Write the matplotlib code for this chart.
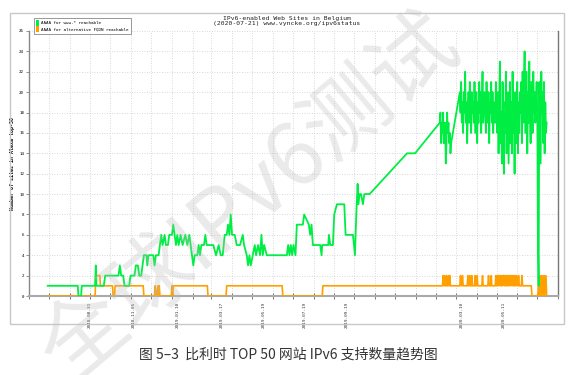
import matplotlib
matplotlib.use('Agg')
import matplotlib.pyplot as plt
import matplotlib.dates as mdates
from matplotlib.patches import Patch, Rectangle
import pandas as pd

# Data (days counted from START)
START = pd.Timestamp('2018-06-01')
END = pd.Timestamp('2020-08-01')

green_day = [28, 73, 74, 78, 79, 99, 100, 101, 112, 114, 134, 136, 138, 141, 143, 150, 152,
             158, 160, 163, 165, 168, 170, 172, 176, 177, 179, 186, 188, 190, 194, 196, 198,
             200, 203, 205, 208, 210, 214, 216, 218, 220, 222, 224, 227, 230, 234, 237, 240,
             244, 246, 248, 252, 254, 256, 258, 262, 264, 266, 272, 276, 280, 284, 287, 290,
             293, 296, 298, 300, 302, 304, 308, 311, 316, 320, 322, 326, 328, 330, 332, 335,
             338, 340, 343, 346, 348, 350, 352, 356, 361, 386, 388, 390, 392, 394, 396, 399,
             401, 410, 412, 419, 421, 423, 425, 436, 438, 439, 441, 448, 449, 451, 455, 457,
             461, 472, 474, 476, 485, 488, 490, 492, 493, 495, 497, 500, 502, 510,
             566, 578]
green_val = [1, 1, 0, 0, 1, 1, 3, 1, 1, 2, 2, 3, 2, 2, 1, 1, 2,
             2, 3, 3, 2, 2, 3, 4, 4, 3, 4, 4, 3, 4, 4, 5, 6,
             5, 6, 5, 5, 6, 6, 7, 6, 5, 6, 5, 6, 5, 6, 5, 6,
             4, 3, 4, 4, 5, 4, 5, 5, 6, 5, 5, 5, 4, 5, 4, 4,
             6, 6, 7, 6, 8, 6, 6, 5, 5, 6, 5, 4, 3, 4, 3, 4,
             5, 4, 5, 4, 6, 4, 5, 4, 4, 4, 5, 4, 5, 4, 5, 4,
             7, 7, 8, 7, 6, 7, 5, 5, 4, 5, 5, 5, 6, 5, 5, 8,
             9, 9, 6, 6, 6, 4, 8, 11, 9, 10, 10, 9, 10, 10,
             14, 14]

# daily readings after the data gap
green_noisy_a = [17, 18, 15, 17, 16, 18, 15, 16, 17, 13, 15, 18, 16, 17, 15, 16, 14, 15]  # day 615..
green_noisy_b = [20, 18, 21, 17, 19, 16, 20, 18, 22, 17, 19, 15, 18, 20, 17, 21, 19, 16, 20, 18,
                 19, 17, 21, 16, 18, 20, 15, 19, 17, 21, 18, 20, 16, 19, 22, 17, 18, 20, 19, 16,
                 21, 18, 17, 20, 15, 19, 18, 21, 17, 20, 16, 18, 19, 17, 21, 18,
                 16, 20, 14, 19, 23, 15, 18, 13, 21, 17, 12, 19, 16, 22, 14, 18, 20, 13, 17, 21,
                 15, 19, 14, 22, 16, 18, 12, 20, 17, 15, 21, 14, 19, 16, 20,
                 18, 21, 15, 22, 17, 20, 24, 16, 19, 22, 14, 20, 17, 23, 18, 15, 21, 19, 16, 22,
                 18, 20, 17, 19, 21, 18,
                 5, 1,
                 21, 17, 13, 22, 18, 20, 15, 21, 14, 19, 16, 17]  # day 645..

orange_day = [28, 99, 100, 106, 107, 125, 126, 128, 129, 171, 172, 188, 189, 190, 191, 193,
              194, 195, 196, 213, 214, 215, 216, 217, 267, 268, 295, 296, 379, 380, 439, 440,
              619, 620, 621, 622, 623, 624, 625, 626, 627, 628, 629, 630, 631,
              645, 646, 647, 648, 649, 650, 656, 657, 658, 659, 660, 661, 662, 663, 664,
              667, 668, 669, 670, 671, 672, 678, 679, 680, 687, 688, 689, 691, 692, 693,
              698, 699, 700, 701, 702, 703, 704, 705, 706, 707, 708, 709, 710, 711, 712,
              713, 714, 715, 716, 717, 718, 719, 720, 721, 722, 723, 724, 725, 726, 727,
              728, 729, 730, 732, 733, 734, 737, 738, 739, 752, 753, 761,
              762, 763, 764, 765, 766, 767, 768, 769, 770, 771, 772, 773, 774, 775]
orange_val = [0, 0, 2, 2, 1, 1, 0, 0, 1, 1, 0, 0, 1, 0, 0, 1,
              0, 1, 0, 0, 1, 0, 1, 1, 1, 0, 0, 1, 1, 0, 0, 1,
              1, 2, 1, 2, 1, 1, 2, 1, 1, 2, 1, 2, 1,
              1, 2, 1, 1, 2, 1, 1, 2, 1, 1, 2, 1, 1, 2, 1,
              1, 2, 1, 1, 2, 1, 1, 2, 1, 1, 2, 1, 1, 2, 1,
              1, 2, 1, 2, 1, 2, 2, 1, 2, 1, 2, 1, 2, 2, 1,
              2, 1, 2, 1, 2, 1, 2, 1, 2, 2, 1, 2, 1, 2, 1,
              2, 1, 2, 1, 2, 1, 1, 2, 1, 1, 0, 0,
              0, 2, 0, 1, 2, 0, 2, 1, 0, 2, 0, 1, 2, 0]

tick_label_days = [91, 157, 223, 289, 352, 413, 475, 648, 710]

title = 'IPv6-enabled Web Sites in Belgium\n(2020-07-21) www.vyncke.org/ipv6status'
ylabel = 'Number of sites in Alexa top-50'
legend_labels = ['AAAA for www.* reachable', 'AAAA for alternative FQDN reachable']
caption = '图 5–3  比利时 TOP 50 网站 IPv6 支持数量趋势图'
watermark = '全球IPv6测试'

GREEN = '#00ee44'
ORANGE = '#ffa000'
MONO = 'DejaVu Sans Mono'


def to_dates(days):
    return [START + pd.Timedelta(days=d) for d in days]


g_days = green_day + list(range(615, 615 + len(green_noisy_a))) + list(range(645, 645 + len(green_noisy_b)))
g_vals = green_val + green_noisy_a + green_noisy_b

fig = plt.figure(figsize=(5.84, 3.75), dpi=100)
fig.patches.append(Rectangle((10 / 584, 1 - 324 / 375), 554 / 584, 311 / 375,
                             transform=fig.transFigure, fill=False,
                             edgecolor='#c8c8c8', lw=1.0))

ax = fig.add_axes([29 / 584, 1 - 296 / 375, 529 / 584, 265 / 375])
ax.plot(to_dates(orange_day), orange_val, color=ORANGE, lw=1.2, zorder=3)
ax.plot(to_dates(g_days), g_vals, color=GREEN, lw=1.3, zorder=4)

ax.set_xlim(START, END)
ax.set_ylim(0, 26)
ax.set_yticks(range(0, 27, 2))
ax.tick_params(axis='y', labelsize=3, length=2.5, color='#666', width=0.5, pad=1.0)
for lab in ax.get_yticklabels():
    lab.set_fontfamily(MONO)

# monthly ticks with grid, labels at selected dates
ax.xaxis.set_minor_locator(mdates.MonthLocator())
ax.set_xticks(to_dates(tick_label_days))
ax.set_xticklabels([d.strftime('%Y-%m-%d') for d in to_dates(tick_label_days)],
                   rotation=90, fontsize=3.2, family=MONO, color='#333')
ax.tick_params(axis='x', which='major', length=0, pad=4)
ax.tick_params(axis='x', which='minor', length=4, direction='inout', color='#666', width=0.6)
ax.grid(True, which='minor', axis='x', color='#cccccc', ls=(0, (1, 2)), lw=0.6)
ax.grid(True, which='major', axis='y', color='#cccccc', ls=(0, (1, 2)), lw=0.6)
ax.grid(False, which='major', axis='x')

ax.spines['top'].set_visible(False)
ax.spines['left'].set_color('#888')
ax.spines['left'].set_linewidth(1.0)
ax.spines['bottom'].set_color('#aaa')
ax.spines['bottom'].set_linewidth(1.5)
ax.spines['right'].set_color('#777')
ax.spines['right'].set_linewidth(1.0)

ax.set_ylabel(ylabel, fontsize=3.6, family=MONO, fontweight='bold')
ax.yaxis.set_label_coords(-14 / 529, 0.5)

fig.text(287 / 584, 1 - 21 / 375, title, ha='center', va='center', fontsize=4.6,
         family=MONO, linespacing=1.2, color='#222')

handles = [Patch(facecolor=GREEN, edgecolor='none'), Patch(facecolor=ORANGE, edgecolor='none')]
leg = ax.legend(handles, legend_labels, loc='upper left',
                bbox_to_anchor=(32 / 584, 1 - 16 / 375), bbox_transform=fig.transFigure,
                prop={'family': MONO, 'size': 3.1}, handlelength=0.6, handleheight=1.6,
                handletextpad=0.6, borderpad=0.45, labelspacing=0.15, frameon=True,
                fancybox=False, edgecolor='#888', framealpha=1)
leg.get_frame().set_linewidth(0.6)

fig.text(288 / 584, 1 - 355 / 375, caption, ha='center', va='center', fontsize=10,
         family=['Noto Sans CJK SC', 'DejaVu Sans'], color='#333')

fig.text(0.43, 0.47, watermark, ha='center', va='center', fontsize=62, rotation=40,
         family=['Noto Sans CJK SC', 'DejaVu Sans'], color='#bbbbbb', alpha=0.3, zorder=10)

fig.savefig('out.png', dpi=100)
